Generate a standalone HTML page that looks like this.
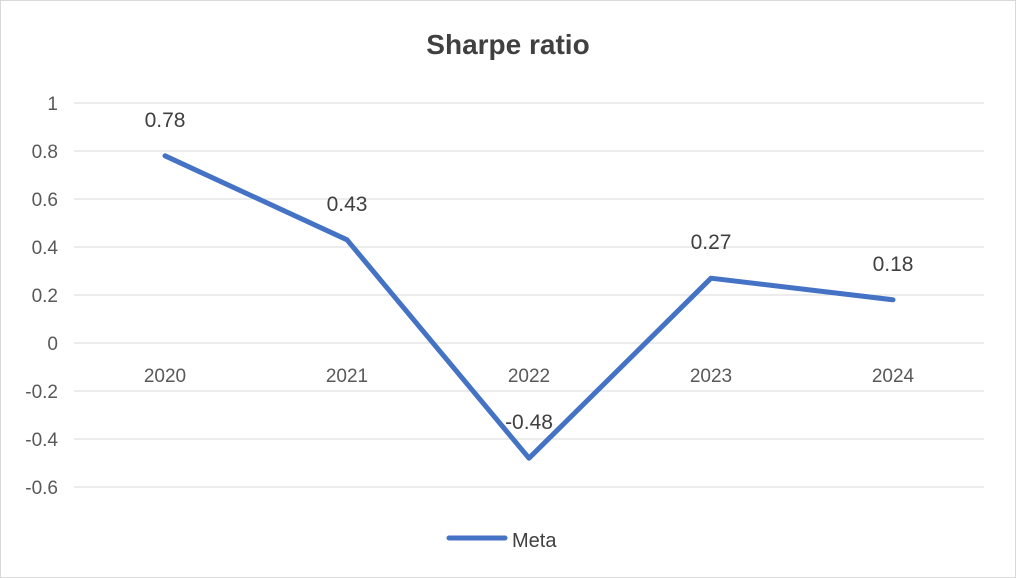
<!DOCTYPE html>
<html><head><meta charset="utf-8"><style>
html,body{margin:0;padding:0;background:#fff}
svg{display:block;font-family:"Liberation Sans",Arial,sans-serif}
</style></head><body>
<svg id="chart" width="1016" height="578" viewBox="0 0 1016 578">
<rect x="0.5" y="0.5" width="1015" height="577" fill="#fff" stroke="#d9d9d9"/>
<text x="508" y="54" text-anchor="middle" font-size="28" font-weight="bold" fill="#404040">Sharpe ratio</text>
<g id="grid"></g><g id="ylabels"></g><g id="xlabels"></g><g id="series"></g><g id="dlabels"></g>
<g>
<line x1="449" y1="538" x2="505" y2="538" stroke="#4472c4" stroke-width="5" stroke-linecap="round"/>
<text x="512" y="547" font-size="20" fill="#404040">Meta</text>
</g>
</svg>
<script>
const categories=["2020","2021","2022","2023","2024"];
const values=[0.78,0.43,-0.48,0.27,0.18];
const valueLabels=["0.78","0.43","-0.48","0.27","0.18"];
const yTicks=[1,0.8,0.6,0.4,0.2,0,-0.2,-0.4,-0.6];
const yTickLabels=["1","0.8","0.6","0.4","0.2","0","-0.2","-0.4","-0.6"];
const NS="http://www.w3.org/2000/svg";
const left=74,right=984,y0=343,pxPerUnit=240;
const y=v=>y0-v*pxPerUnit;
const step=(right-left)/categories.length;
const x=i=>left+step*(i+0.5);
function mk(tag,attrs,parent,text){const e=document.createElementNS(NS,tag);for(const k in attrs)e.setAttribute(k,attrs[k]);if(text!==undefined)e.textContent=text;document.getElementById(parent).appendChild(e);return e;}
yTicks.forEach((t,i)=>{
 const l=mk("line",{x1:left,x2:right,y1:y(t),y2:y(t),stroke:"#d9d9d9","stroke-width":1},"grid");
 
 
 const tx=mk("text",{x:58,y:y(t)+7,"text-anchor":"end","font-size":19,fill:"#595959"},"ylabels",yTickLabels[i]);
 
 
});
categories.forEach((c,i)=>{
 const tx=mk("text",{x:x(i),y:y0+39,"text-anchor":"middle","font-size":19,fill:"#595959"},"xlabels",c);
 
 
});
const pts=values.map((v,i)=>x(i)+","+y(v)).join(" ");
const pl=mk("polyline",{points:pts,fill:"none",stroke:"#4472c4","stroke-width":5,"stroke-linejoin":"round","stroke-linecap":"round"},"series");


values.forEach((v,i)=>{
 const tx=mk("text",{x:x(i),y:y(v)-29,"text-anchor":"middle","font-size":21,fill:"#404040"},"dlabels",valueLabels[i]);
 
 
});
</script>
</body></html>
